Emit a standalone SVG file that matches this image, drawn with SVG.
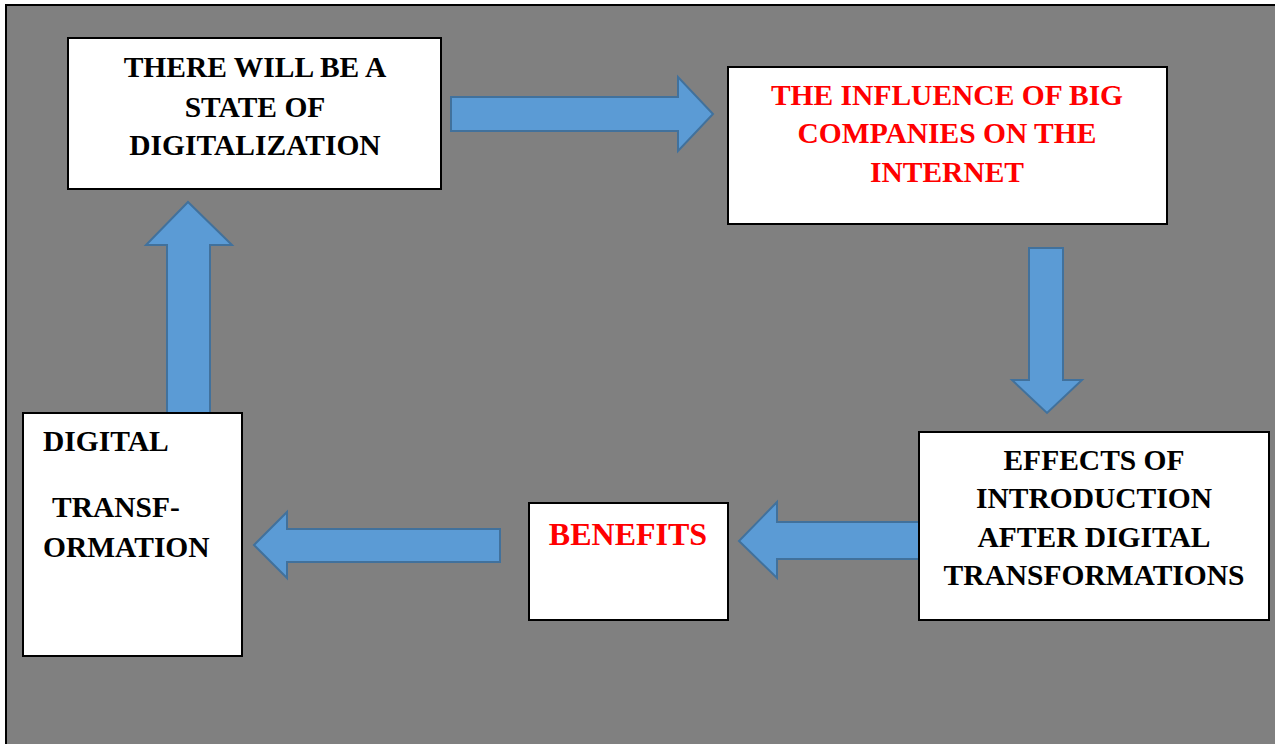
<svg xmlns="http://www.w3.org/2000/svg" width="1275" height="744" viewBox="0 0 1275 744">
  <style>
    .box { fill: #ffffff; stroke: #000000; stroke-width: 2; }
    .arrow { fill: #5B9BD5; stroke: #41719C; stroke-width: 2; stroke-linejoin: miter; }
    .t { font-family: "Liberation Serif", "Times New Roman", serif; font-weight: bold; font-size: 29.5px; }
    .c { text-anchor: middle; }
    .black { fill: #000000; }
    .red { fill: #FF0000; }
  </style>
  <rect x="0" y="0" width="1275" height="744" fill="#ffffff"/>
  <rect x="6" y="5" width="1300" height="800" fill="#808080" stroke="#000000" stroke-width="2"/>

  <g id="connectors">
    <polygon class="arrow" points="451,97 678,97 678,77 713,114 678,151 678,131 451,131"/>
    <polygon class="arrow" points="1029,248 1063,248 1063,380 1082,380 1047,413 1012,380 1029,380"/>
    <polygon class="arrow" points="921,522 777,522 777,502 739,541 777,578 777,559 921,559"/>
    <polygon class="arrow" points="500,529 287,529 287,512 254,545 287,578 287,562 500,562"/>
    <polygon class="arrow" points="167,413 167,245 146,245 188,202 232,245 210,245 210,413"/>
  </g>

  <g id="node-digitalization">
    <rect class="box" x="68" y="38" width="373" height="151"/>
    <text class="t c black" x="255" y="77">THERE WILL BE A</text>
    <text class="t c black" x="255" y="117">STATE OF</text>
    <text class="t c black" x="255" y="155">DIGITALIZATION</text>
  </g>

  <g id="node-influence">
    <rect class="box" x="728" y="67" width="439" height="157"/>
    <text class="t c red" x="947" y="105">THE INFLUENCE OF BIG</text>
    <text class="t c red" x="947" y="143">COMPANIES ON THE</text>
    <text class="t c red" x="947" y="182">INTERNET</text>
  </g>

  <g id="node-effects">
    <rect class="box" x="919" y="432" width="350" height="188"/>
    <text class="t c black" x="1094" y="470">EFFECTS OF</text>
    <text class="t c black" x="1094" y="508">INTRODUCTION</text>
    <text class="t c black" x="1094" y="547">AFTER DIGITAL</text>
    <text class="t c black" x="1094" y="585">TRANSFORMATIONS</text>
  </g>

  <g id="node-benefits">
    <rect class="box" x="529" y="503" width="199" height="117"/>
    <text class="t c red" x="628" y="545" style="font-size:32px">BENEFITS</text>
  </g>

  <g id="node-transformation">
    <rect class="box" x="23" y="413" width="219" height="243"/>
    <text class="t black" x="43" y="451">DIGITAL</text>
    <text class="t black" x="52" y="517">TRANSF-</text>
    <text class="t black" x="43" y="557">ORMATION</text>
  </g>
</svg>
